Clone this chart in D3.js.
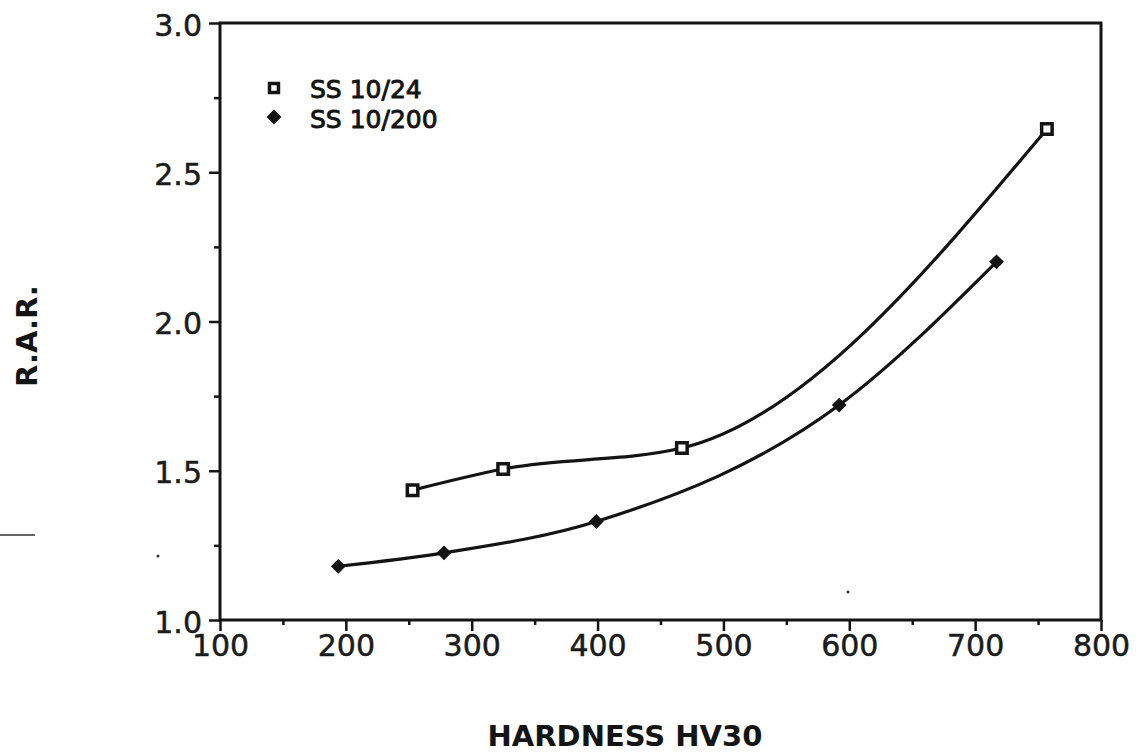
<!DOCTYPE html>
<html>
<head>
<meta charset="utf-8">
<script src="https://cdn.jsdelivr.net/npm/d3@7"></script>
<style>
  html, body { margin: 0; padding: 0; background: #fff; }
  svg { display: block; }
  .tick text { font-family: "DejaVu Sans", sans-serif; font-size: 30px; fill: #1b1b1b; stroke: #1b1b1b; stroke-width: 0.5px; }
  .title { font-family: "DejaVu Sans", sans-serif; font-weight: bold; font-size: 29px; fill: #141414; }
  .legend text { font-family: "DejaVu Sans", sans-serif; font-size: 25px; fill: #141414; stroke: #141414; stroke-width: 0.9px; }
</style>
</head>
<body>
<svg width="1142" height="754"></svg>
<script>
"use strict"

// tick labels
var xTicks = [100, 200, 300, 400, 500, 600, 700, 800];
var yTicks = [1.0, 1.5, 2.0, 2.5, 3.0];
var xMinor = [150, 250, 350, 450, 550, 650, 750];
var yMinor = [1.25, 1.75, 2.25, 2.75];

// series
var seriesNames = ["SS 10/24", "SS 10/200"];
var hv24  = [253, 325, 467, 757];
var rar24 = [1.435, 1.506, 1.576, 2.645];
var hv200  = [194, 278, 399, 592, 717];
var rar200 = [1.18, 1.225, 1.33, 1.72, 2.2];

var svg = d3.select("svg");
var margin = {left: 220, right: 1101, top: 23, bottom: 620};

var x = d3.scaleLinear().domain([100, 800]).range([margin.left, margin.right]);
var y = d3.scaleLinear().domain([1.0, 3.0]).range([margin.bottom, margin.top]);

var ink = "#141414";

// minor ticks
svg.append("g")
   .attr("transform", "translate(0," + margin.bottom + ")")
   .call(d3.axisBottom(x).tickValues(xMinor).tickSize(5).tickFormat(""))
   .call(function(g){ g.select(".domain").remove(); })
   .selectAll("line").attr("stroke", ink).attr("stroke-width", 2.5);
svg.append("g")
   .attr("transform", "translate(" + margin.left + ",0)")
   .call(d3.axisLeft(y).tickValues(yMinor).tickSize(6).tickFormat(""))
   .call(function(g){ g.select(".domain").remove(); })
   .selectAll("line").attr("stroke", ink).attr("stroke-width", 2.5);

// major axes
var xAxis = svg.append("g")
   .attr("transform", "translate(0," + margin.bottom + ")")
   .call(d3.axisBottom(x).tickValues(xTicks).tickSize(11).tickPadding(4).tickFormat(d3.format("d")));
var yAxis = svg.append("g")
   .attr("transform", "translate(" + margin.left + ",0)")
   .call(d3.axisLeft(y).tickValues(yTicks).tickSize(11).tickPadding(7).tickFormat(d3.format(".1f")));

[xAxis, yAxis].forEach(function(a){
	a.select(".domain").remove();
	a.selectAll("line").attr("stroke", ink).attr("stroke-width", 2.5);
});
yAxis.selectAll("text").attr("dy", "0.4em");

// frame
svg.append("rect")
   .attr("x", margin.left)
   .attr("y", margin.top)
   .attr("width", margin.right - margin.left)
   .attr("height", margin.bottom - margin.top)
   .attr("fill", "none")
   .attr("stroke", ink)
   .attr("stroke-width", 3);

// curves
var line = d3.line()
	.x(function(d){ return x(d[0]); })
	.y(function(d){ return y(d[1]); })
	.curve(d3.curveMonotoneX);

var data24  = d3.zip(hv24, rar24);
var data200 = d3.zip(hv200, rar200);

[data24, data200].forEach(function(d){
	svg.append("path")
	   .datum(d)
	   .attr("d", line)
	   .attr("fill", "none")
	   .attr("stroke", ink)
	   .attr("stroke-width", 3.2);
});

// markers
var square  = d3.symbol().type(d3.symbolSquare).size(110);
var diamond = d3.symbol().type(d3.symbolSquare).size(80);

svg.append("g").selectAll("path")
   .data(data24)
   .enter()
   .append("path")
   .attr("d", square)
   .attr("transform", function(d){ return "translate(" + x(d[0]) + "," + y(d[1]) + ")"; })
   .attr("fill", "#fff")
   .attr("stroke", ink)
   .attr("stroke-width", 3.5);

svg.append("g").selectAll("path")
   .data(data200)
   .enter()
   .append("path")
   .attr("d", diamond)
   .attr("transform", function(d){ return "translate(" + x(d[0]) + "," + y(d[1]) + ") rotate(45)"; })
   .attr("fill", ink)
   .attr("stroke", ink)
   .attr("stroke-width", 1.5);

// legend
var legend = svg.append("g").attr("class", "legend");
legend.selectAll("text")
	.data(seriesNames)
	.enter()
	.append("text")
	.attr("x", 310)
	.attr("y", function(d, i){ return 98 + i * 30; })
	.text(function(d){ return d; });
legend.append("path")
	.attr("d", d3.symbol().type(d3.symbolSquare).size(80))
	.attr("transform", "translate(274,88)")
	.attr("fill", "#fff")
	.attr("stroke", ink)
	.attr("stroke-width", 3.5);
legend.append("path")
	.attr("d", d3.symbol().type(d3.symbolSquare).size(110))
	.attr("transform", "translate(274,117) rotate(45)")
	.attr("fill", ink);

// axis titles
svg.append("text")
   .attr("class", "title")
   .attr("x", 625)
   .attr("y", 746)
   .attr("text-anchor", "middle")
   .text("HARDNESS HV30");
svg.append("text")
   .attr("class", "title")
   .attr("transform", "translate(37,336) rotate(-90)")
   .attr("text-anchor", "middle")
   .text("R.A.R.");

// scan marks
svg.append("line")
   .attr("x1", 0).attr("x2", 35).attr("y1", 535).attr("y2", 535)
   .attr("stroke", "#333").attr("stroke-width", 1.5);
svg.append("circle").attr("cx", 158).attr("cy", 556).attr("r", 1.5).attr("fill", "#333");
svg.append("circle").attr("cx", 848).attr("cy", 592).attr("r", 1.5).attr("fill", "#333");
</script>
</body>
</html>
